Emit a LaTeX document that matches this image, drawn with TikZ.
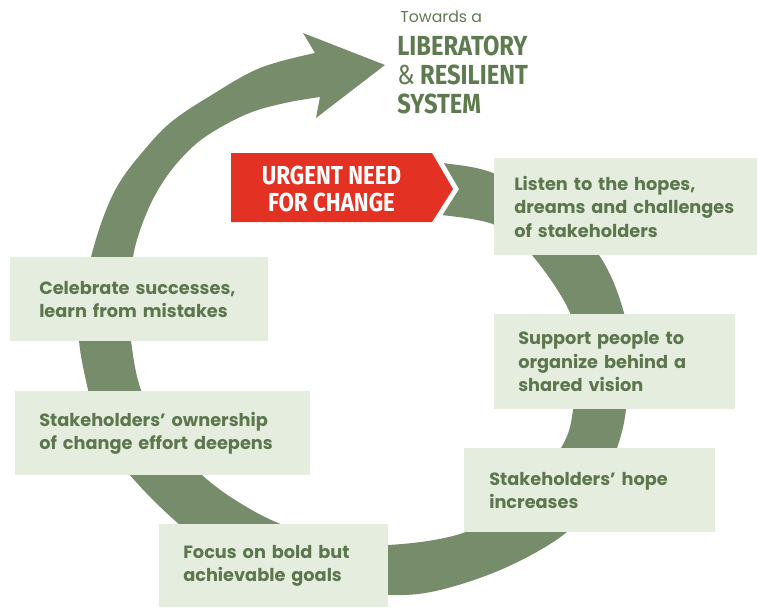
\documentclass[tikz,border=0pt]{standalone}
\usepackage{fontspec}
\usepackage{tikz}
\newfontfamily\stagefont{Poppins}
\newfontfamily\goalfont[FakeStretch=0.86]{Fira Sans}

\begin{document}
\begin{tikzpicture}[x=0.75pt,y=0.75pt,yscale=-1,xscale=1,
  band/.style={fill={rgb, 255:red, 119; green, 140; blue, 106 }},
  stage/.style={fill={rgb, 255:red, 229; green, 237; blue, 222 }, text={rgb, 255:red, 92; green, 118; blue, 78 }, anchor=north west, align=left, inner ysep=0pt, font=\stagefont\bfseries\fontsize{13.3}{17.6}\selectfont},
  goaltext/.style={text={rgb, 255:red, 94; green, 122; blue, 79 }, inner sep=0pt, align=left}]
\useasboundingbox (0,0) rectangle (757,610);

%Shape: Spiral arrow
\fill[band] plot[smooth, tension=0.6] coordinates {(422,162) (443,163) (493,173) (550,205) (599,255) (624,313) (628,362) (626,410) (617,448) (598,492) (567,532) (507,567) (440,590) (390,595) (330,588) (260,565) (215,547) (180,525) (130,475) (97,425) (88,390) (79,340) (82,298) (91,257) (103,218) (118,185) (140,155) (170,123) (210,96) (260,68) (315,53)}
  -- (303,33) -- (385,65) -- (316,118) -- (320,97)
  -- plot[smooth, tension=0.6] coordinates {(320,97) (285,103) (247,114) (205,137) (178,162) (158,190) (143,222) (133,257) (130,300) (131,340) (141,390) (165,435) (202,475) (240,503) (283,525) (335,540) (388,545) (463,533) (520,500) (561,448) (573,410) (574,360) (570,313) (532,255) (500,228) (477,220) (441,215) (422,214)} -- cycle;

% Stage boxes
\node[stage, text width=167.25pt, inner xsep=15pt, minimum height=72.75pt] (listen) at (494,158) {Listen to the hopes,\\dreams and challenges\\of stakeholders};
\node[stage, text width=144.75pt, inner xsep=18pt, minimum height=71.25pt] (support) at (494,314) {Support people to\\organize behind a\\shared vision};
\node[stage, text width=150.75pt, inner xsep=18.75pt, minimum height=63pt] (hope) at (464,448) {Stakeholders’ hope\\increases};
\node[stage, text width=135.75pt, inner xsep=18pt, minimum height=62.25pt] (focus) at (159,524) {Focus on bold but\\achievable goals};
\node[stage, text width=185.25pt, inner xsep=18pt, minimum height=63pt] (ownership) at (15,391) {Stakeholders’ ownership\\of change effort deepens};
\node[stage, text width=150pt, inner xsep=21.75pt, minimum height=63pt] (celebrate) at (10,257) {Celebrate successes,\\learn from mistakes};

%Shape: Urgent pointer
\fill[fill={rgb, 255:red, 227; green, 50; blue, 35 }, preaction={draw=white, line width=7.5pt}] (231,153) -- (432,153) -- (453,189) -- (432,222) -- (231,222) -- cycle;
% Text Node
\node[text=white, inner sep=0pt, align=center, font=\goalfont\bfseries\fontsize{19.5}{20.25}\selectfont] (urgent) at (331.5,189) {URGENT NEED\\FOR CHANGE};

% Text Node
\node[goaltext, anchor=base west, font=\stagefont\fontsize{11.8}{14}\selectfont] (towards) at (400,23) {Towards a};
% Text Node
\node[goaltext, anchor=base west, font=\goalfont\bfseries\fontsize{20.7}{21.6}\selectfont] (goal) at (397,113.5) {LIBERATORY\\{\mdseries\&} RESILIENT\\SYSTEM};

\end{tikzpicture}
\end{document}
